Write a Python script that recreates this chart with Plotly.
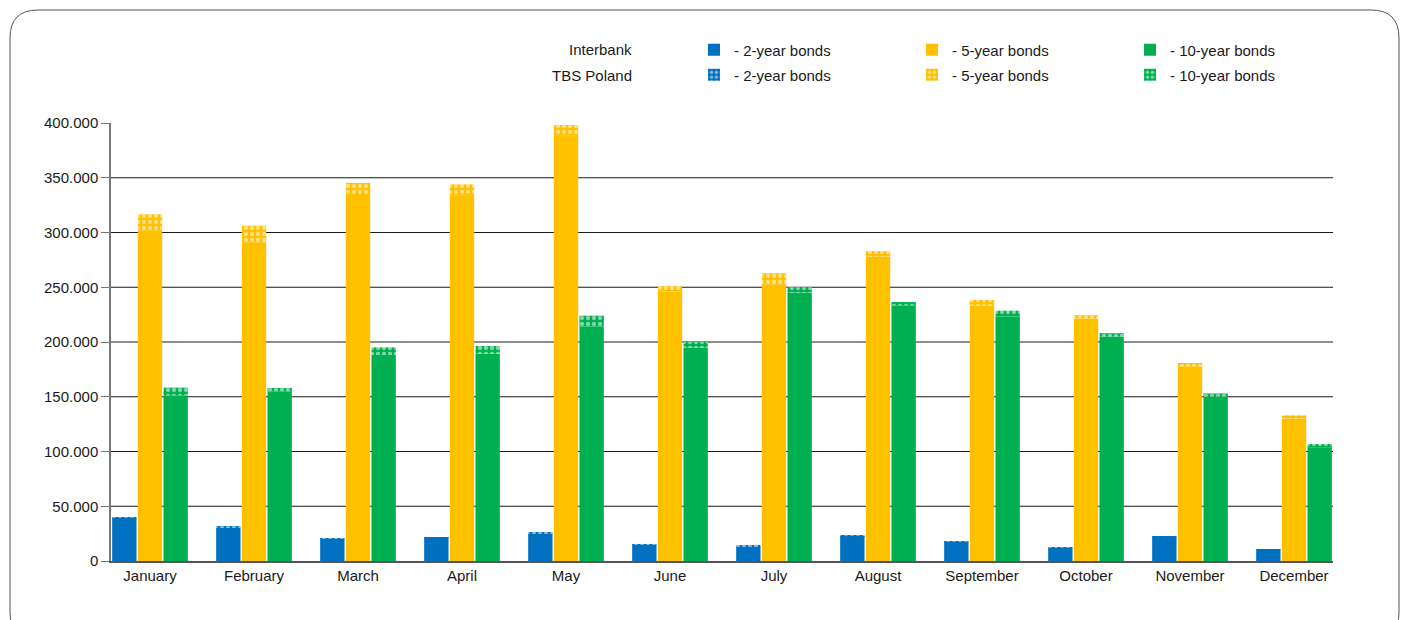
import plotly.graph_objects as go

months = ["January", "February", "March", "April", "May", "June", "July",
          "August", "September", "October", "November", "December"]

# Interbank (solid) and TBS Poland (patterned) volumes, stacked per bond type
interbank_2y = [38700, 30500, 20200, 21300, 25400, 14800, 13600, 22800, 16900, 12200, 21700, 10400]
tbs_2y = [1500, 800, 500, 600, 800, 400, 400, 600, 500, 300, 500, 300]

interbank_5y = [302000, 291200, 335200, 334000, 388200, 246000, 252700, 278000, 233400, 221400, 177800, 130000]
tbs_5y = [14600, 15000, 10000, 10000, 10000, 5000, 10000, 5000, 5000, 3000, 3000, 3000]

interbank_10y = [151300, 155000, 188100, 189300, 214000, 195000, 245000, 233500, 223600, 205000, 150000, 103800]
tbs_10y = [7000, 3000, 7000, 7000, 10000, 5000, 5000, 3000, 5000, 3000, 3000, 3000]

y_ticks = [0, 50000, 100000, 150000, 200000, 250000, 300000, 350000, 400000]

BLUE, YELLOW, GREEN = "#0070C0", "#FFC000", "#00B050"
FONT = "Liberation Sans, Arial, sans-serif"

W, H = 1409, 620
L, R, T, B = 111, 76, 123, 59
PW, PH = W - L - R, H - T - B


def px(x):
    return (x - L) / PW


def py(y):
    return (H - B - y) / PH


fig = go.Figure()

series = [
    ("2y", "- 2-year bonds", BLUE, interbank_2y, tbs_2y),
    ("5y", "- 5-year bonds", YELLOW, interbank_5y, tbs_5y),
    ("10y", "- 10-year bonds", GREEN, interbank_10y, tbs_10y),
]

for key, name, color, ib, tbs in series:
    fig.add_trace(go.Bar(
        x=months, y=ib, name=name, offsetgroup=key, legend="legend",
        marker=dict(color=color, line=dict(width=0)),
    ))
for key, name, color, ib, tbs in series:
    fig.add_trace(go.Bar(
        x=months, y=tbs, base=ib, name=name, offsetgroup=key, legend="legend2",
        marker=dict(color=color, line=dict(width=0),
                    pattern=dict(shape=".", fgcolor="white", bgcolor=color,
                                 size=6, solidity=0.4, fillmode="overlay")),
    ))

# gridlines (excluding zero and top)
shapes = []
for v in y_ticks[1:-1]:
    shapes.append(dict(type="line", xref="paper", yref="y", x0=0, x1=1, y0=v, y1=v,
                       line=dict(color="#1a1a1a", width=1), layer="below"))

# rounded outer frame
x0, x1, y0, y1, r = px(10), px(1399), py(10), py(640), 28
rx, ry = r / PW, r / PH
path = (f"M {x0+rx},{y0} L {x1-rx},{y0} Q {x1},{y0} {x1},{y0-ry} "
        f"L {x1},{y1+ry} Q {x1},{y1} {x1-rx},{y1} L {x0+rx},{y1} "
        f"Q {x0},{y1} {x0},{y1+ry} L {x0},{y0-ry} Q {x0},{y0} {x0+rx},{y0} Z")
shapes.append(dict(type="path", xref="paper", yref="paper", path=path,
                   line=dict(color="#555555", width=1), layer="below"))

legend_common = dict(orientation="h", xref="container", yref="container",
                     xanchor="left", yanchor="middle", entrywidth=173,
                     entrywidthmode="pixels", bgcolor="rgba(0,0,0,0)",
                     font=dict(family=FONT, size=15, color="#1a1a1a"),
                     itemclick=False, itemdoubleclick=False, tracegroupgap=0)

fig.update_layout(
    width=W, height=H,
    margin=dict(l=L, r=R, t=T, b=B, autoexpand=False),
    paper_bgcolor="white", plot_bgcolor="white",
    barmode="group", bargap=0.26, bargroupgap=0.05,
    separators=",.",
    font=dict(family=FONT, size=15, color="#1a1a1a"),
    shapes=shapes,
    legend=dict(x=694 / W, y=1 - 50 / H, **legend_common),
    legend2=dict(x=694 / W, y=1 - 75 / H, **legend_common),
    annotations=[
        dict(text="Interbank", x=px(634), y=py(50), xref="paper", yref="paper",
             xanchor="right", yanchor="middle", showarrow=False,
             font=dict(family=FONT, size=15, color="#1a1a1a")),
        dict(text="TBS Poland", x=px(634), y=py(75), xref="paper", yref="paper",
             xanchor="right", yanchor="middle", showarrow=False,
             font=dict(family=FONT, size=15, color="#1a1a1a")),
    ],
    xaxis=dict(range=[-0.375, 11.375], showgrid=False, showline=True,
               linecolor="#555555", linewidth=1.5, ticks="", zeroline=False,
               tickfont=dict(family=FONT, size=15, color="#1a1a1a")),
    yaxis=dict(range=[0, 400000], tickvals=y_ticks, tickformat=",.0f",
               showgrid=False, zeroline=False, showline=True, linecolor="#777777",
               linewidth=1.5, ticks="outside", ticklen=8, tickcolor="#777777",
               tickfont=dict(family=FONT, size=15, color="#1a1a1a")),
)

fig.write_html("out.html")
